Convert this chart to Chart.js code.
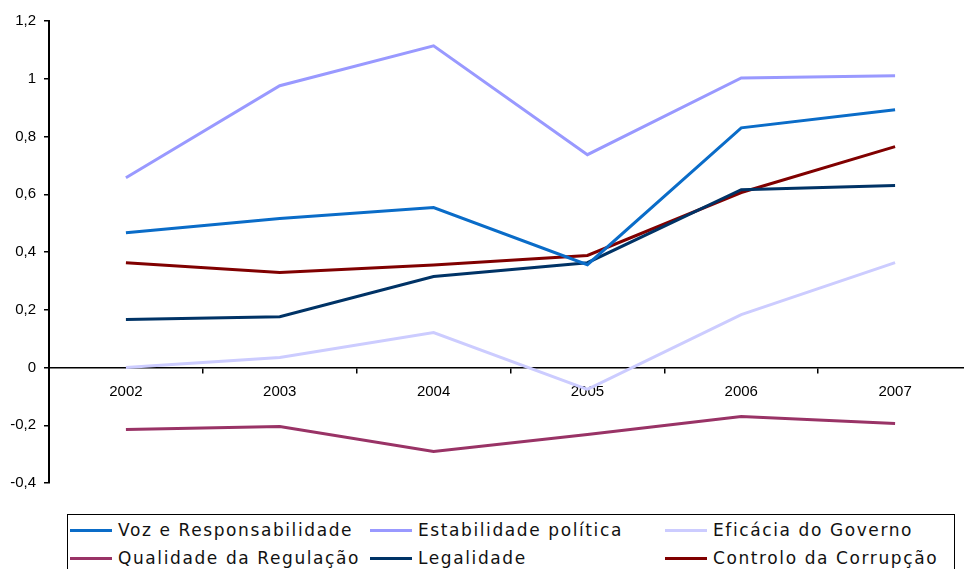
<!DOCTYPE html>
<html>
<head>
<meta charset="utf-8">
<script src="https://cdn.jsdelivr.net/npm/chart.js@4"></script>
<style>
  html, body { margin: 0; padding: 0; background: #fff; overflow: hidden; width: 964px; height: 569px; }
  #wrap { position: absolute; left: 0; top: 0; width: 975px; height: 500px; }
  #legend {
    position: absolute; left: 67px; top: 514px; width: 888px; height: 70px;
    border: 1px solid #000; box-sizing: border-box;
    font-family: "DejaVu Sans", Verdana, sans-serif; font-size: 17px; letter-spacing: 1.6px; color: #111;
    display: grid; grid-template-columns: 300px 295px auto; grid-auto-rows: 28px;
    padding: 1px 0 0 2px;
  }
  #legend .item { display: flex; align-items: center; white-space: nowrap; }
  #legend .swatch { display: inline-block; width: 42px; height: 3px; margin-right: 6px; }
</style>
</head>
<body>
<div id="wrap"><canvas id="indicadores"></canvas></div>
<div id="legend"></div>
<script>
/* indicadores de governação 2002-2007 */
const anos = ['2002', '2003', '2004', '2005', '2006', '2007'];

const voz = [0.467, 0.516, 0.554, 0.356, 0.830, 0.893];
const estabilidade = [0.657, 0.976, 1.114, 0.737, 1.003, 1.010];
const eficacia = [0.0, 0.035, 0.121, -0.076, 0.183, 0.363];
const regulacao = [-0.215, -0.204, -0.291, -0.232, -0.170, -0.194];
const legalidade = [0.166, 0.176, 0.315, 0.363, 0.616, 0.630];
const corrupcao = [0.363, 0.329, 0.355, 0.388, 0.606, 0.765];

const series = [
  { label: 'Voz e Responsabilidade', data: voz, cor: '#0a6cc8' },
  { label: 'Estabilidade política', data: estabilidade, cor: '#9999ff' },
  { label: 'Eficácia do Governo', data: eficacia, cor: '#ccccff' },
  { label: 'Qualidade da Regulação', data: regulacao, cor: '#993366' },
  { label: 'Legalidade', data: legalidade, cor: '#003366' },
  { label: 'Controlo da Corrupção', data: corrupcao, cor: '#800000' }
];

const fonteEixo = { family: "'Liberation Sans', Arial, sans-serif", size: 15 };

const ctx = document.getElementById('indicadores').getContext('2d');
const chart = new Chart(ctx, {
  type: 'line',
  data: {
    labels: anos,
    datasets: series.map(s => ({
      label: s.label,
      data: s.data,
      borderColor: s.cor,
      backgroundColor: s.cor,
      borderWidth: 3,
      pointRadius: 0,
      tension: 0,
      fill: false
    }))
  },
  options: {
    responsive: true,
    maintainAspectRatio: false,
    animation: false,
    layout: { padding: { top: 21, right: 3, bottom: 17, left: 0 } },
    plugins: { legend: { display: false }, tooltip: { enabled: false } },
    scales: {
      x: {
        position: { y: 0 },
        offset: true,
        grid: { offset: true, drawOnChartArea: false, tickLength: 5, color: '#000', lineWidth: 1.5 },
        border: { color: '#000', width: 1.5 },
        ticks: { color: '#000', font: fonteEixo, padding: 10, maxRotation: 0 }
      },
      y: {
        min: -0.4,
        max: 1.2,
        grid: { drawOnChartArea: false, tickLength: 5, color: '#000', lineWidth: 1.5 },
        border: { color: '#000', width: 2 },
        ticks: {
          stepSize: 0.2,
          color: '#000',
          font: fonteEixo,
          padding: 8,
          callback: v => String(Math.round(v * 10) / 10).replace('.', ',')
        },
        afterFit: scale => { scale.width = 49; }
      }
    }
  }
});

// legenda em caixa, três colunas
const legenda = document.getElementById('legend');
series.forEach(s => {
  const item = document.createElement('div');
  item.className = 'item';
  const sw = document.createElement('span');
  sw.className = 'swatch';
  sw.style.background = s.cor;
  item.appendChild(sw);
  item.appendChild(document.createTextNode(s.label));
  legenda.appendChild(item);
});
</script>
</body>
</html>
